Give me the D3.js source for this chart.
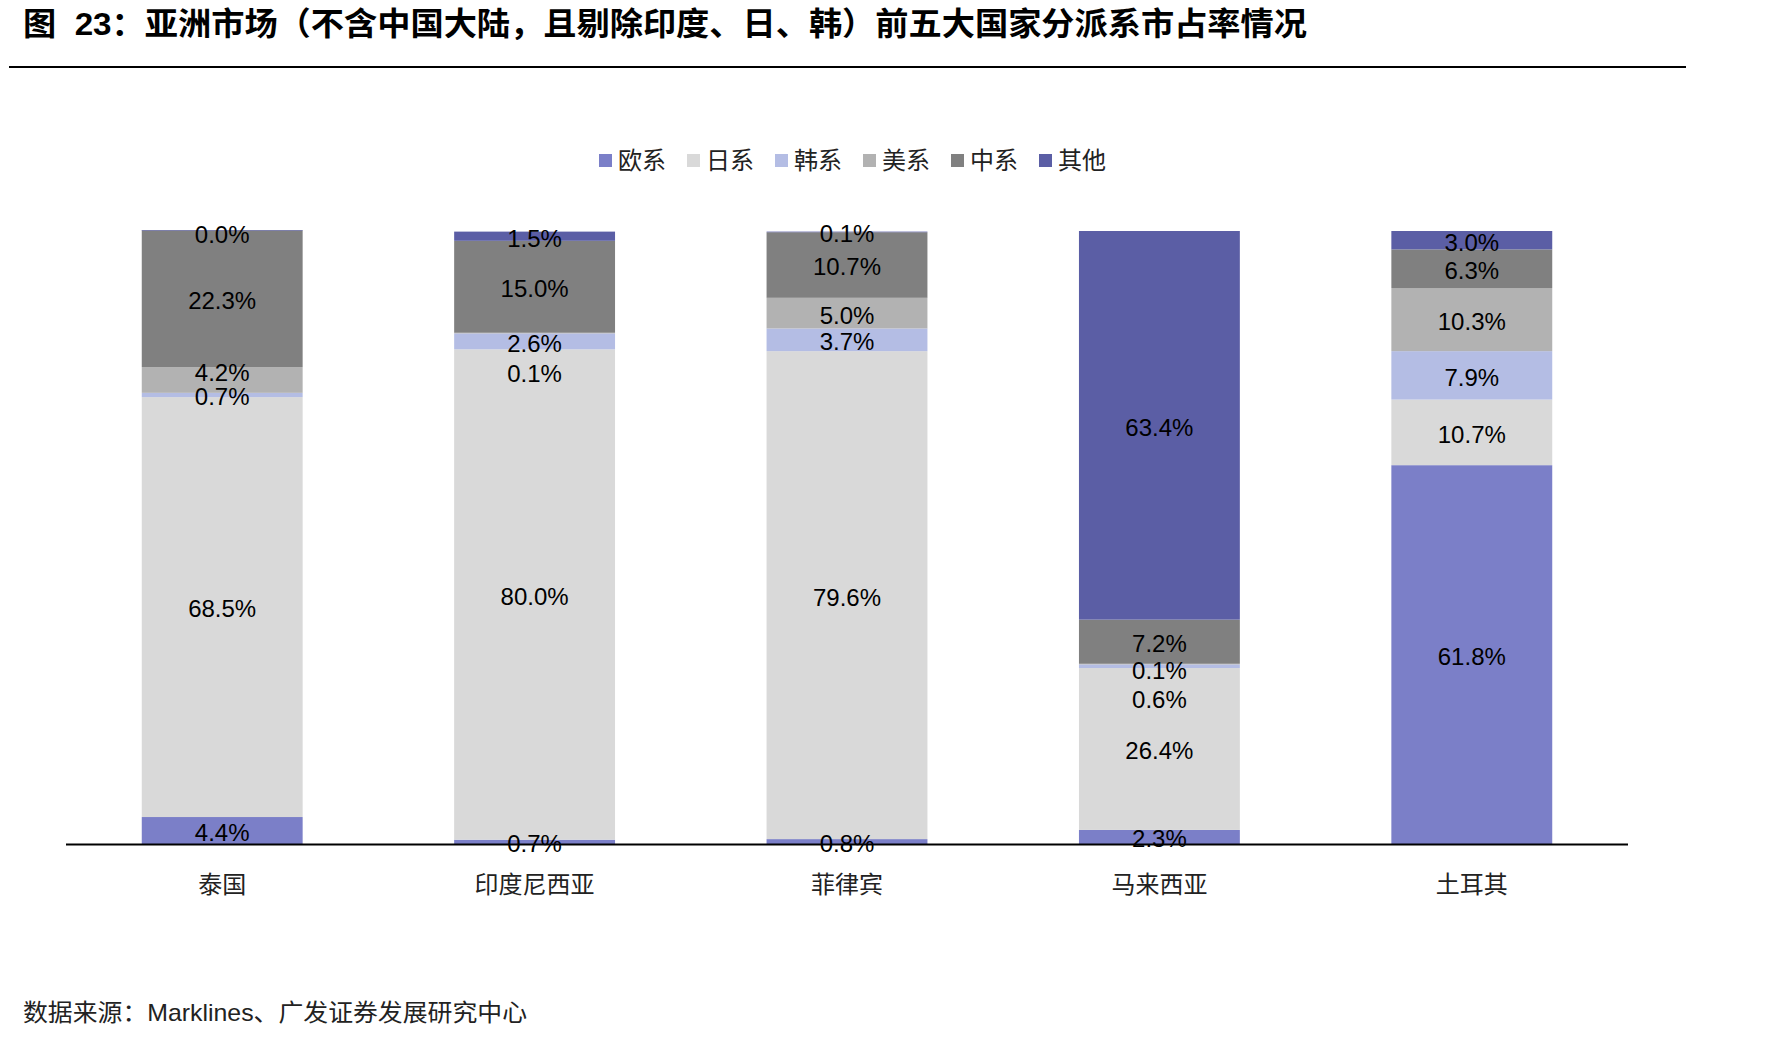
<!DOCTYPE html>
<html>
<head>
<meta charset="utf-8">
<script src="https://cdn.jsdelivr.net/npm/d3@7"></script>
<style>
  body { margin: 0; background: #fff; }
  svg { display: block; }
</style>
</head>
<body>
<script>

// categories and series
var categories = ['泰国', '印度尼西亚', '菲律宾', '马来西亚', '土耳其'];
var seriesNames = ['欧系', '日系', '韩系', '美系', '中系', '其他'];

// shares in % per category (bottom to top)
var europe = [4.4, 0.7, 0.8, 2.3, 61.8];
var japan  = [68.5, 80.0, 79.6, 26.4, 10.7];
var korea  = [0.7, 2.6, 3.7, 0.6, 7.9];
var usa    = [4.2, 0.1, 5.0, 0.1, 10.3];
var china  = [22.3, 15.0, 10.7, 7.2, 6.3];
var other  = [0.0, 1.5, 0.1, 63.4, 3.0];

var seriesValues = [europe, japan, korea, usa, china, other];
var colors = ['#7b7fc8', '#d9d9d9', '#b4bde4', '#b2b2b2', '#808080', '#5b5ea5'];

var width = 1790, height = 1041;
var cjk = '"Liberation Sans", "Noto Sans CJK SC", sans-serif';

var svg = d3.select('body').append('svg')
    .attr('width', width)
    .attr('height', height);

svg.append('rect').attr('width', width).attr('height', height).attr('fill', '#fff');

// title + rule
svg.append('text')
    .text('图  23：亚洲市场（不含中国大陆，且剔除印度、日、韩）前五大国家分派系市占率情况')
    .attr('x', 23).attr('y', 35)
    .attr('font-family', cjk)
    .attr('font-weight', 'bold')
    .attr('font-size', '32px')
    .attr('textLength', 1284)
    .attr('lengthAdjust', 'spacingAndGlyphs')
    .attr('xml:space', 'preserve')
    .style('white-space', 'pre')
    .attr('fill', '#000');

svg.append('line')
    .attr('x1', 9).attr('x2', 1686)
    .attr('y1', 67).attr('y2', 67)
    .attr('stroke', '#000').attr('stroke-width', 2);

// build table for stack
var table = categories.map(function (c, i) {
    var row = { cat: c };
    seriesNames.forEach(function (s, j) { row[s] = seriesValues[j][i]; });
    return row;
});

var stacked = d3.stack().keys(seriesNames)(table);

// scales
var x = d3.scaleBand().domain(categories).range([66, 1628]).padding(0);
var barW = x.bandwidth() * 0.515;
var y = d3.scaleLinear().domain([0, 100]).range([844, 231]);

var color = d3.scaleOrdinal().domain(seriesNames).range(colors);

// bars
var layers = svg.append('g').selectAll('g').data(stacked).enter().append('g')
    .attr('fill', function (d) { return color(d.key); });

layers.selectAll('rect').data(function (d) { return d; }).enter().append('rect')
    .attr('x', function (d) { return x(d.data.cat) + (x.bandwidth() - barW) / 2; })
    .attr('y', function (d) { return y(d[1]); })
    .attr('width', barW)
    .attr('height', function (d) { return Math.max(0.6, y(d[0]) - y(d[1])); });

// axis line
svg.append('line')
    .attr('x1', 66).attr('x2', 1628)
    .attr('y1', 844.5).attr('y2', 844.5)
    .attr('stroke', '#000').attr('stroke-width', 2);

// category labels
svg.append('g').selectAll('text').data(categories).enter().append('text')
    .text(function (d) { return d; })
    .attr('x', function (d) { return x(d) + x.bandwidth() / 2; })
    .attr('y', 893)
    .attr('text-anchor', 'middle')
    .attr('font-family', cjk)
    .attr('font-size', '24px')
    .attr('fill', '#222');

// labels of thin segments were moved by hand in the original
var labelNudge = {
    '泰国|美系': -9,
    '泰国|其他': 2,
    '印度尼西亚|美系': 39,
    '马来西亚|韩系': 31,
    '马来西亚|美系': 5
};

var labelG = svg.append('g');
stacked.forEach(function (layer) {
    layer.forEach(function (d) {
        var cat = d.data.cat;
        var v = d.data[layer.key];
        var cy = (y(d[0]) + y(d[1])) / 2 + 2 + (labelNudge[cat + '|' + layer.key] || 0);
        labelG.append('text')
            .text(v.toFixed(1) + '%')
            .attr('x', x(cat) + x.bandwidth() / 2)
            .attr('y', cy)
            .attr('dy', '0.35em')
            .attr('text-anchor', 'middle')
            .attr('font-family', '"Liberation Sans", Arial, sans-serif')
            .attr('font-size', '24px')
            .attr('fill', '#000');
    });
});

// legend
var legend = svg.append('g').attr('transform', 'translate(599,160)');
var legendStep = 88;
var item = legend.selectAll('g').data(seriesNames).enter().append('g')
    .attr('transform', function (d, i) { return 'translate(' + (i * legendStep) + ',0)'; });

item.append('rect')
    .attr('x', 0).attr('y', -6)
    .attr('width', 13).attr('height', 13)
    .attr('fill', function (d) { return color(d); });

item.append('text')
    .text(function (d) { return d; })
    .attr('x', 19).attr('y', 0)
    .attr('dy', '0.36em')
    .attr('font-family', cjk)
    .attr('font-size', '24px')
    .attr('fill', '#222');

// source note
svg.append('text')
    .text('数据来源：Marklines、广发证券发展研究中心')
    .attr('x', 23).attr('y', 1021)
    .attr('font-family', cjk)
    .attr('font-size', '24px')
    .attr('textLength', 504)
    .attr('lengthAdjust', 'spacingAndGlyphs')
    .attr('fill', '#222');

</script>
</body>
</html>
